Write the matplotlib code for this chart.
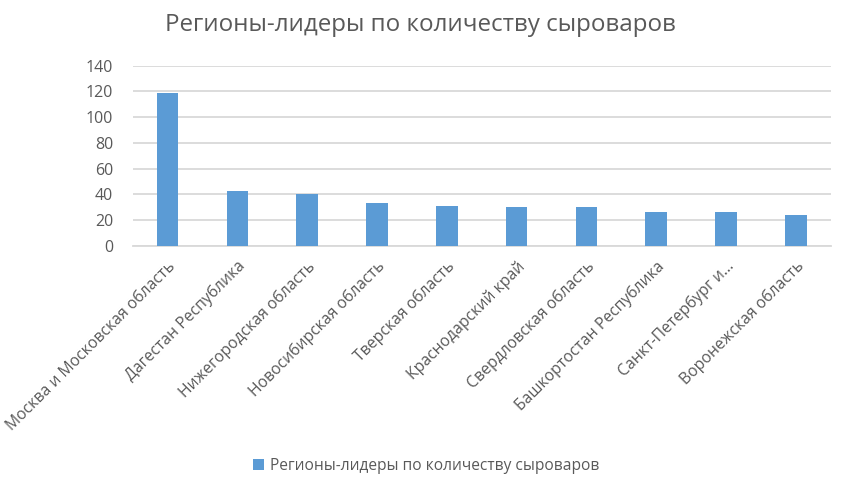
import matplotlib
matplotlib.use("Agg")
import matplotlib.pyplot as plt
import numpy as np

plt.rcParams['font.family'] = ['Open Sans', 'DejaVu Sans']

# данные
regions = [
    "Москва и Московская область",
    "Дагестан Республика",
    "Нижегородская область",
    "Новосибирская область",
    "Тверская область",
    "Краснодарский край",
    "Свердловская область",
    "Башкортостан Республика",
    "Санкт-Петербург и...",
    "Воронежская область",
]
cheesemakers = [119, 43, 40, 33, 31, 30, 30, 26, 26, 24]
series_name = "Регионы-лидеры по количеству сыроваров"
y_ticks = [0, 20, 40, 60, 80, 100, 120, 140]

text_color = "#595959"
bar_color = "#5b9bd5"
grid_color = "#d9d9d9"

fig = plt.figure(figsize=(8.45, 4.83), dpi=100)
ax = fig.add_axes([0.157, 0.491, 0.826, 0.373])

x = np.arange(len(regions))
ax.bar(x, cheesemakers, width=0.31, color=bar_color, label=series_name, zorder=3)

ax.set_xlim(-0.5, len(regions) - 0.5)
ax.set_ylim(0, 140)
ax.set_yticks(y_ticks)
ax.set_yticklabels([str(v) for v in y_ticks], fontsize=11.5, color=text_color)
ax.yaxis.grid(True, color=grid_color, linewidth=1.3, zorder=0)
ax.tick_params(axis='both', length=0)
ax.tick_params(axis='y', pad=14)

ax.set_xticks(x)
ax.set_xticklabels(regions, rotation=45, ha='right', va='top',
                   rotation_mode='anchor', fontsize=11.3, color=text_color)
ax.tick_params(axis='x', pad=9)

for side in ['top', 'right', 'left']:
    ax.spines[side].set_visible(False)
ax.spines['bottom'].set_color(grid_color)
ax.spines['bottom'].set_linewidth(1.3)

fig.text(0.497, 0.948, series_name, ha='center', va='center',
         fontsize=17.4, color=text_color)

fig.legend(loc='center', bbox_to_anchor=(0.504, 0.035), frameon=False,
           fontsize=11.2, labelcolor=text_color, handlelength=0.7,
           handleheight=0.7, handletextpad=0.4)

fig.savefig("out.png", dpi=100)
